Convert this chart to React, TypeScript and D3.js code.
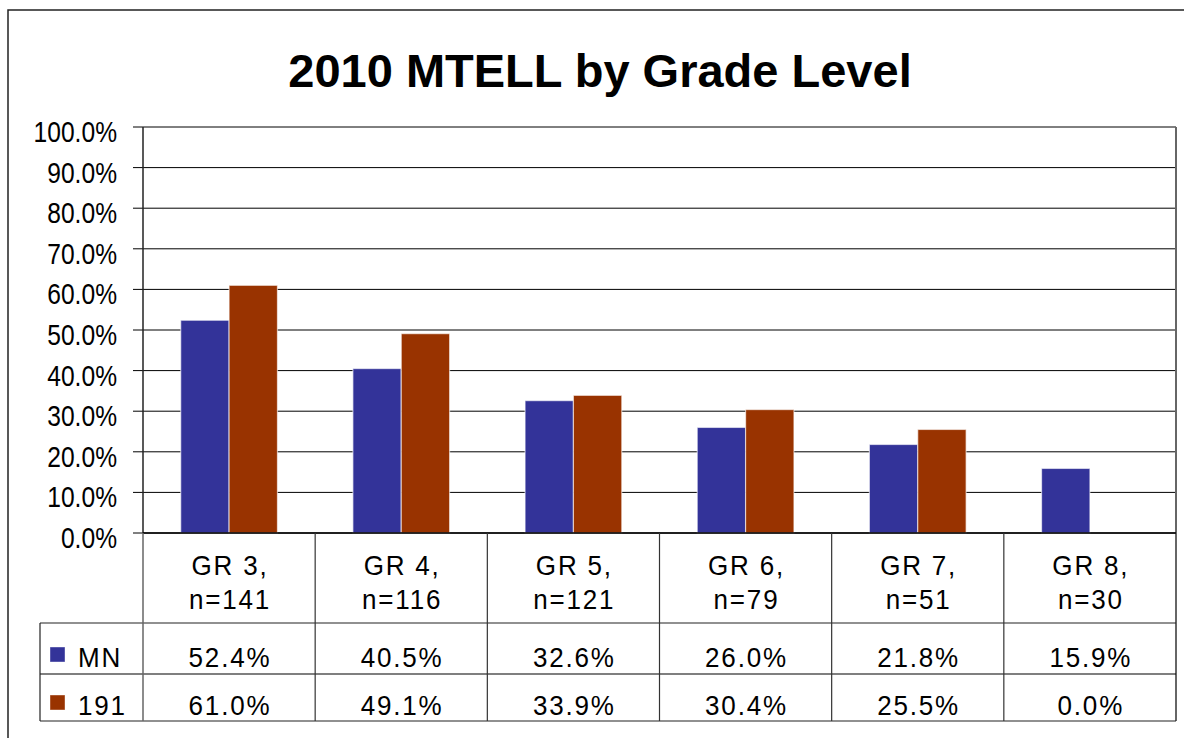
import React from "react";
import * as d3 from "d3";

const categories = ["GR 3,", "GR 4,", "GR 5,", "GR 6,", "GR 7,", "GR 8,"];
const nLabels = ["n=141", "n=116", "n=121", "n=79", "n=51", "n=30"];
const seriesNames = ["MN", "191"];
const mnValues = [52.4, 40.5, 32.6, 26.0, 21.8, 15.9];
const values191 = [61.0, 49.1, 33.9, 30.4, 25.5, 0.0];
const yTicks = [0, 10, 20, 30, 40, 50, 60, 70, 80, 90, 100];
const colors = ["#333399", "#993300"];

const W = 1184;
const H = 738;
const L = 143;
const R = 1176;
const T = 127;
const B = 533;
const row1 = 623;
const row2 = 674;
const row3 = 721;
const tableLeft = 40;

const sans = "'Liberation Sans', Arial, sans-serif";

function NText(props: {
  x: number;
  y: number;
  size: number;
  sx?: number;
  anchor?: "start" | "middle" | "end";
  ls?: number;
  children: React.ReactNode;
}) {
  const { x, y, size, sx = 1, anchor = "start", ls = 0, children } = props;
  const lsLocal = ls / sx;
  const shift = anchor === "middle" ? lsLocal / 2 : anchor === "end" ? lsLocal : 0;
  return (
    <text
      transform={`translate(${x},${y}) scale(${sx},1)`}
      x={shift}
      y={0}
      textAnchor={anchor}
      fontFamily={sans}
      fontSize={size}
      letterSpacing={lsLocal}
      fill="#000"
    >
      {children}
    </text>
  );
}

export default function App() {
  const x = d3.scaleBand<string>().domain(categories).range([L, R]).padding(0);
  const xi = d3
    .scaleBand<string>()
    .domain(seriesNames)
    .range([0, x.bandwidth()])
    .paddingInner(0)
    .paddingOuter(0.78);
  const y = d3.scaleLinear().domain([0, 100]).range([B, T]);
  const series = [mnValues, values191];
  const ls = 1.8;
  const tsx = 0.93;

  return (
    <svg
      width={W}
      height={H}
      style={{ position: "absolute", left: 0, top: 0, background: "#fff" }}
    >
      <rect x={0} y={0} width={W} height={H} fill="#fff" />
      <path d={`M8,${H + 5}V10H${W + 5}`} fill="none" stroke="#222" strokeWidth={1.5} />

      <text
        x={600}
        y={87}
        textAnchor="middle"
        fontFamily={sans}
        fontWeight="bold"
        fontSize={47}
        fill="#000"
      >
        2010 MTELL by Grade Level
      </text>

      {yTicks.map((t) => (
        <g key={t}>
          <line x1={133} x2={R} y1={y(t)} y2={y(t)} stroke="#000" strokeWidth={1} />
          <NText x={117} y={y(t) + 15} size={30} sx={0.82} anchor="end">
            {t.toFixed(1)}%
          </NText>
        </g>
      ))}

      {series.map((vals, si) =>
        vals.map((v, i) =>
          v > 0 ? (
            <rect
              key={`${si}-${i}`}
              x={(x(categories[i]) as number) + (xi(seriesNames[si]) as number)}
              y={y(v)}
              width={xi.bandwidth()}
              height={B - y(v)}
              fill={colors[si]}
              stroke="#ffffff"
              strokeOpacity={0.6}
              strokeWidth={1.2}
            />
          ) : null
        )
      )}

      <line x1={L} x2={L} y1={T} y2={B} stroke="#222" strokeWidth={1.5} />
      <line x1={R} x2={R} y1={T} y2={row3} stroke="#666" strokeWidth={2} />
      <line x1={L} x2={R} y1={B} y2={B} stroke="#000" strokeWidth={1.5} />

      <line x1={tableLeft} x2={R} y1={row1} y2={row1} stroke="#222" strokeWidth={1.2} />
      <line x1={tableLeft} x2={R} y1={row2} y2={row2} stroke="#000" strokeWidth={1.2} />
      <line x1={tableLeft} x2={R} y1={row3} y2={row3} stroke="#222" strokeWidth={1.2} />
      <line x1={tableLeft} x2={tableLeft} y1={row1} y2={row3} stroke="#222" strokeWidth={1.2} />
      <line x1={L} x2={L} y1={B} y2={row3} stroke="#666" strokeWidth={1.5} />
      {categories.slice(1).map((c) => (
        <line
          key={c}
          x1={x(c) as number}
          x2={x(c) as number}
          y1={B}
          y2={row3}
          stroke="#333"
          strokeWidth={1.2}
        />
      ))}

      {categories.map((c, i) => {
        const cx = (x(c) as number) + x.bandwidth() / 2;
        return (
          <g key={c}>
            <NText x={cx} y={575} size={28} sx={tsx} anchor="middle" ls={ls}>{c}</NText>
            <NText x={cx} y={609} size={28} sx={tsx} anchor="middle" ls={ls}>{nLabels[i]}</NText>
            <NText x={cx} y={667} size={28} sx={tsx} anchor="middle" ls={ls}>{mnValues[i].toFixed(1)}%</NText>
            <NText x={cx} y={715} size={28} sx={tsx} anchor="middle" ls={ls}>{values191[i].toFixed(1)}%</NText>
          </g>
        );
      })}

      {seriesNames.map((s, si) => (
        <g key={s}>
          <rect
            x={50}
            y={si === 0 ? 647 : 695}
            width={15}
            height={15}
            fill={colors[si]}
            stroke="#fff"
            strokeOpacity={0.5}
            strokeWidth={0.8}
          />
          <NText x={78} y={si === 0 ? 667 : 715} size={28} sx={tsx} ls={ls}>
            {s}
          </NText>
        </g>
      ))}
    </svg>
  );
}
